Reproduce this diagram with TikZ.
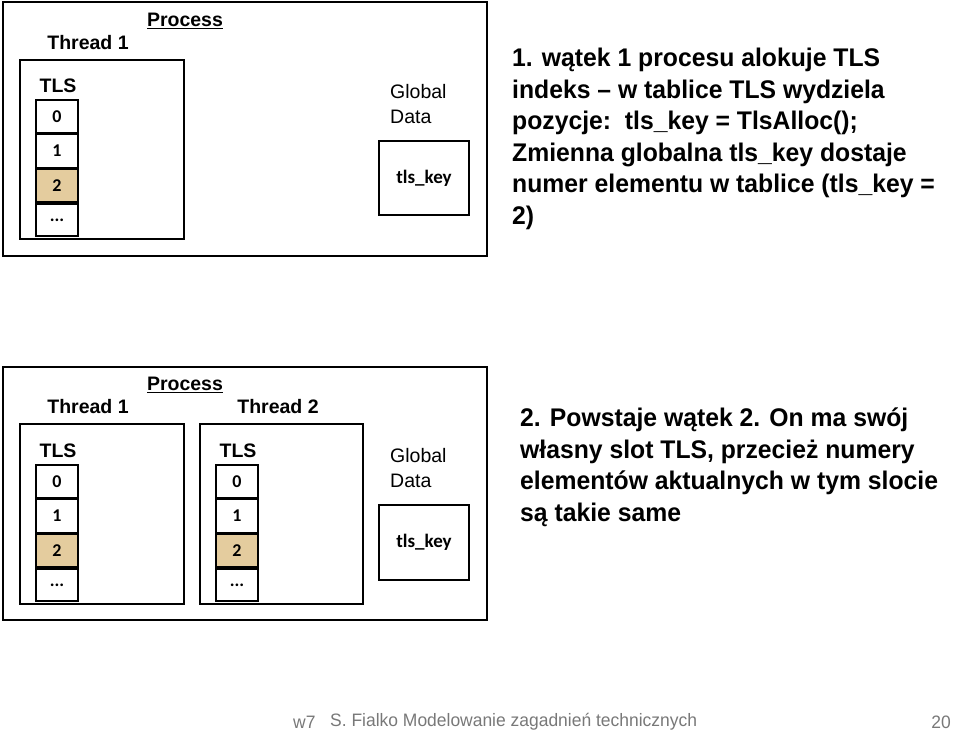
\documentclass[tikz,border=0pt]{standalone}
\usepackage{fontspec}
\setmainfont{Liberation Sans}
\newfontfamily\nar[FakeStretch=0.97]{Liberation Sans}
\newfontfamily\carl{Carlito}
\definecolor{tanc}{RGB}{228,204,158}
\definecolor{foot}{RGB}{120,120,120}
\begin{document}
\begin{tikzpicture}[x=1pt,y=-1pt,
  box/.style={draw,line width=2pt},
  cell/.style={draw,line width=1.6pt,minimum width=42pt,minimum height=33pt,inner sep=0,font=\carl\bfseries\fontsize{18}{18}\selectfont},
  lab/.style={font=\bfseries\fontsize{19.5}{19.5}\selectfont,inner sep=0},
  gl/.style={font=\fontsize{19.5}{19.5}\selectfont,inner sep=0,anchor=west},
  big/.style={font=\nar\bfseries\fontsize{25.5}{31.5}\selectfont,inner sep=0,anchor=north west,align=left},
  ft/.style={font=\nar\fontsize{18}{18}\selectfont,text=foot,inner sep=0}]
\useasboundingbox (0,0) rectangle (960,732);
% top
\draw[box] (3,2) rectangle (487,256);
\node[lab] (p1) at (185,21) {\underline{Process}};
\node[lab] (t1) at (88,43) {Thread 1};
\draw[box] (20,60) rectangle (184,239);
\node[lab] (tl1) at (58,86) {TLS};
\node[cell] (a0) at (57,116.5) {0};
\node[cell,anchor=north] (a1) at (a0.south) {1};
\node[cell,anchor=north,fill=tanc] (a2) at (a1.south) {2};
\node[cell,anchor=north,minimum height=32pt] (a3) at (a2.south) {...};
\node[gl] (g1) at (390,92) {Global};
\node[gl] (g2) at (390,117) {Data};
\node[box,minimum width=90pt,minimum height=74pt,inner sep=0,font=\carl\bfseries\fontsize{19}{19}\selectfont] (k1) at (424,178) {tls\_key};
\node[big] (txt1) at (512,48) {1. wątek 1 procesu alokuje TLS\\indeks – w tablice TLS wydziela\\pozycje:\ \ tls\_key = TlsAlloc();\\Zmienna globalna tls\_key dostaje\\numer elementu w tablice (tls\_key =\\2)};
% bottom
\draw[box] (3,367) rectangle (487,620);
\node[lab] (p2) at (185,385) {\underline{Process}};
\node[lab] (t2a) at (88,407) {Thread 1};
\node[lab] (t2b) at (278,407) {Thread 2};
\draw[box] (20,424) rectangle (184,604);
\draw[box] (200,424) rectangle (363,604);
\node[lab] (tl2) at (58,451) {TLS};
\node[lab] (tl3) at (238,451) {TLS};
\node[cell] (b0) at (57,481.5) {0};
\node[cell,anchor=north] (b1) at (b0.south) {1};
\node[cell,anchor=north,fill=tanc] (b2) at (b1.south) {2};
\node[cell,anchor=north,minimum height=32pt] (b3) at (b2.south) {...};
\node[cell] (c0) at (237,481.5) {0};
\node[cell,anchor=north] (c1) at (c0.south) {1};
\node[cell,anchor=north,fill=tanc] (c2) at (c1.south) {2};
\node[cell,anchor=north,minimum height=32pt] (c3) at (c2.south) {...};
\node[gl] (g3) at (390,456) {Global};
\node[gl] (g4) at (390,481) {Data};
\node[box,minimum width=90pt,minimum height=75pt,inner sep=0,font=\carl\bfseries\fontsize{19}{19}\selectfont] (k2) at (424,542.5) {tls\_key};
\node[big] (txt2) at (520,408) {2. Powstaje wątek 2. On ma swój\\własny slot TLS, przecież numery\\elementów aktualnych w tym slocie\\są takie same};
% footer
\node[ft,anchor=west] (f1) at (293,722) {w7};
\node[ft,anchor=west] (f2) at (330,722) {S. Fialko Modelowanie zagadnień technicznych};
\node[ft,anchor=east] (f3) at (951,722) {20};
\end{tikzpicture}
\end{document}
